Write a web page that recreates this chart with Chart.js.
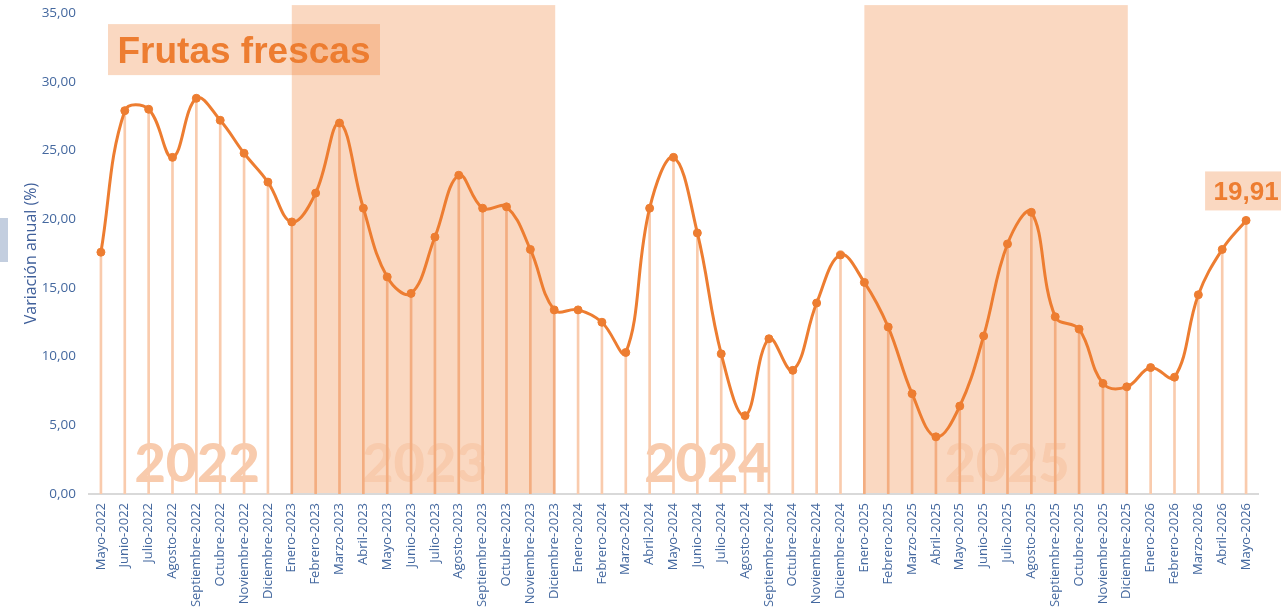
<!DOCTYPE html>
<html lang="es">
<head>
<meta charset="utf-8">
<title>Frutas frescas - Variación anual (%)</title>
<script src="https://cdn.jsdelivr.net/npm/chart.js@4.4.1/dist/chart.umd.min.js"></script>
<style>
  html, body { margin: 0; padding: 0; background: #fff; }
  canvas { display: block; }
</style>
</head>
<body>
<canvas id="graph" width="1281" height="616"></canvas>
<script>
// meses del eje x
const meses = [
    'Mayo-2022', 'Junio-2022', 'Julio-2022', 'Agosto-2022', 'Septiembre-2022', 'Octubre-2022', 'Noviembre-2022', 'Diciembre-2022',
    'Enero-2023', 'Febrero-2023', 'Marzo-2023', 'Abril-2023', 'Mayo-2023', 'Junio-2023', 'Julio-2023', 'Agosto-2023',
    'Septiembre-2023', 'Octubre-2023', 'Noviembre-2023', 'Diciembre-2023',
    'Enero-2024', 'Febrero-2024', 'Marzo-2024', 'Abril-2024', 'Mayo-2024', 'Junio-2024', 'Julio-2024', 'Agosto-2024',
    'Septiembre-2024', 'Octubre-2024', 'Noviembre-2024', 'Diciembre-2024',
    'Enero-2025', 'Febrero-2025', 'Marzo-2025', 'Abril-2025', 'Mayo-2025', 'Junio-2025', 'Julio-2025', 'Agosto-2025',
    'Septiembre-2025', 'Octubre-2025', 'Noviembre-2025', 'Diciembre-2025',
    'Enero-2026', 'Febrero-2026', 'Marzo-2026', 'Abril-2026', 'Mayo-2026'
]

// variacion anual (%) - frutas frescas
const variacion = [
    17.6, 27.9, 28.0, 24.5, 28.8, 27.2, 24.8, 22.7,
    19.8, 21.9, 27.0, 20.8, 15.8, 14.6, 18.7, 23.2, 20.8, 20.9, 17.8, 13.4,
    13.4, 12.5, 10.3, 20.8, 24.5, 19.0, 10.2, 5.7, 11.3, 9.0, 13.9, 17.4,
    15.4, 12.15, 7.3, 4.16, 6.4, 11.5, 18.2, 20.5, 12.9, 12.0, 8.05, 7.8,
    9.2, 8.5, 14.5, 17.8, 19.91
]

const ticksY = [0, 5, 10, 15, 20, 25, 30, 35]
const anios = ['2022', '2023', '2024', '2025']
const aniosSombreados = ['2023', '2025']

const titulo = 'Frutas frescas'
const tituloEje = 'Variación anual (%)'

// rangos sombreados (enero a diciembre)
const sombreados = aniosSombreados.map(a => [meses.indexOf('Enero-' + a), meses.indexOf('Diciembre-' + a)])
function enSombra(i) {
    return sombreados.some(r => i >= r[0] && i <= r[1])
}

const naranja = '#ed7d31'
const azul = '#44689f'
const fmt = v => v.toFixed(2).replace('.', ',')

// posicion de cada año (en meses desde el primero)
const posAnios = [4.03, 13.58, 25.4, 37.98]

const decoracion = {
    id: 'decoracion',
    beforeDatasetsDraw(chart) {
        const ctx = chart.ctx
        const x = chart.scales.x, y = chart.scales.y
        const arriba = y.getPixelForValue(ticksY[ticksY.length - 1]) - 8
        const abajo = y.getPixelForValue(0)
        ctx.save()
        ctx.fillStyle = 'rgba(237,125,49,0.3)'
        sombreados.forEach(function (r) {
            const x0 = x.getPixelForValue(r[0])
            const x1 = x.getPixelForValue(r[1])
            ctx.fillRect(x0, arriba, x1 - x0 + 1, abajo - arriba - 1)
        })
        const x0 = x.getPixelForValue(0)
        const paso = x.getPixelForValue(1) - x0
        ctx.font = '900 54px Lato'
        ctx.fillStyle = '#f8cbad'
        ctx.textAlign = 'center'
        ctx.textBaseline = 'alphabetic'
        anios.forEach(function (a, i) {
            ctx.fillText(a, x0 + posAnios[i] * paso, abajo - 12)
        })
        ctx.restore()
    },
    afterDraw(chart) {
        const ctx = chart.ctx
        const area = chart.chartArea
        ctx.save()
        // caja del titulo
        ctx.fillStyle = 'rgba(237,125,49,0.3)'
        ctx.fillRect(area.left + 19, area.top + 11, 272, 51)
        ctx.fillStyle = naranja
        ctx.font = 'bold 37px "Liberation Sans", Arial'
        ctx.textAlign = 'center'
        ctx.fillText(titulo, area.left + 19 + 136, area.top + 50)

        // etiqueta del ultimo valor
        const ultimo = variacion.length - 1
        const px = chart.scales.x.getPixelForValue(ultimo)
        const py = chart.scales.y.getPixelForValue(variacion[ultimo])
        ctx.fillStyle = 'rgba(237,125,49,0.3)'
        ctx.fillRect(px - 41, py - 49, 82, 39)
        ctx.fillStyle = naranja
        ctx.font = 'bold 26px "Liberation Sans", Arial'
        ctx.fillText(fmt(variacion[ultimo]), px, py - 20)

        // marca gris a la izquierda
        ctx.fillStyle = '#c3cedf'
        ctx.fillRect(0, 218, 8, 44)
        ctx.restore()
    }
}

const data = {
    labels: meses,
    datasets: [{
        type: 'line',
        label: titulo,
        data: variacion,
        borderColor: naranja,
        borderWidth: 3,
        tension: 0.4,
        pointRadius: 4,
        pointBackgroundColor: naranja,
        pointBorderColor: naranja,
        pointBorderWidth: 1,
        clip: false,
        order: 0
    }, {
        type: 'bar',
        label: 'lineas',
        data: variacion,
        barThickness: 2,
        backgroundColor: ctx => enSombra(ctx.dataIndex) ? '#f3ad80' : '#f9cbad',
        order: 1
    }]
}

const config = {
    type: 'bar',
    data: data,
    options: {
        responsive: false,
        animation: false,
        layout: {
            padding: { top: 0, right: 23, left: 0, bottom: 0 }
        },
        plugins: {
            legend: { display: false },
            tooltip: { enabled: false }
        },
        scales: {
            x: {
                offset: true,
                grid: { display: false, drawTicks: false },
                border: { display: true, color: '#d9d9d9', width: 2 },
                ticks: {
                    autoSkip: false,
                    maxRotation: 90,
                    minRotation: 90,
                    padding: 9,
                    color: azul,
                    font: { size: 13, family: '"Open Sans"' }
                },
                afterFit: function (scale) { scale.height = 122 }
            },
            y: {
                min: 0,
                max: 35,
                grid: { display: false, drawTicks: true, tickLength: 8 },
                border: { display: false },
                afterBuildTicks: function (scale) {
                    scale.ticks = ticksY.map(v => ({ value: v }))
                },
                ticks: {
                    padding: 5,
                    color: azul,
                    font: { size: 13.5, family: '"Open Sans"' },
                    callback: v => fmt(v)
                },
                title: {
                    display: true,
                    text: tituloEje,
                    color: '#3f5f9a',
                    padding: { top: 22, bottom: 0 },
                    font: { size: 16, family: '"Open Sans"' }
                },
                afterFit: function (scale) { scale.width = 89 }
            }
        }
    },
    plugins: [decoracion]
}

const myChart = new Chart(document.querySelector('#graph'), config)
</script>
</body>
</html>
